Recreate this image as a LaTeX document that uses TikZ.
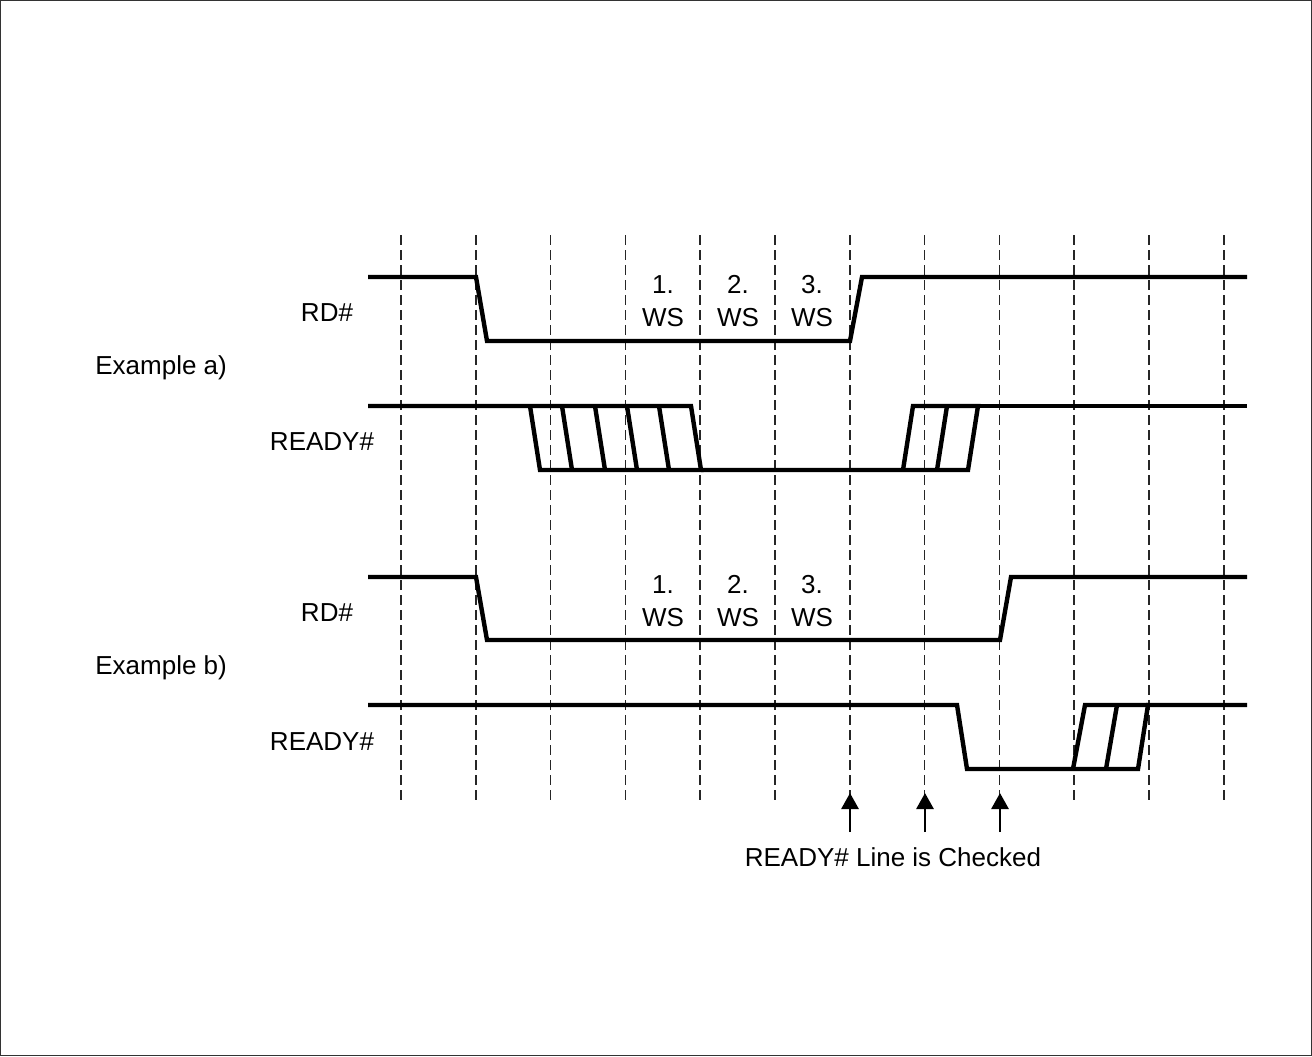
\documentclass[tikz,border=0pt]{standalone}
\usepackage{fontspec}
\setmainfont{Liberation Sans}
\usetikzlibrary{arrows.meta,positioning,calc}
\tikzset{
  signal/.style={line width=2.2pt,line join=miter},
  gridline/.style={line width=0.8pt,black!85,dash pattern=on 5pt off 2.5pt},
  lbl/.style={font=\fontsize{13pt}{15pt}\selectfont,inner sep=0pt},
  wslbl/.style={lbl,align=center,font=\fontsize{13pt}{16.5pt}\selectfont},
  checkarrow/.style={line width=1.4pt,-{Triangle[width=8.5pt,length=8pt]}}
}
\begin{document}
\begin{tikzpicture}[x=0.5pt,y=-0.5pt]
\useasboundingbox (0,0) rectangle (1312,1056);
\draw[line width=0.6pt,black!80] (0.6,0.6) rectangle (1311.4,1055.4);
\foreach \i in {0,...,11}
  \draw[gridline] ({401+74.8*\i},235) -- ({401+74.8*\i},802);
\node[lbl,anchor=west] (exa) at (95,368) {Example a)};
\node[lbl] (rda) at (327,313) {RD\#};
\node[lbl] (rdya) at (322,442) {READY\#};
\node[lbl,anchor=west] (exb) at (95,668) {Example b)};
\node[lbl] (rdb) at (327,613) {RD\#};
\node[lbl] (rdyb) at (322,742) {READY\#};
\node[wslbl] (wsa1) at (663,301) {1.\\WS};
\node[wslbl] (wsa2) at (738,301) {2.\\WS};
\node[wslbl] (wsa3) at (812,301) {3.\\WS};
\node[wslbl] (wsb1) at (663,601) {1.\\WS};
\node[wslbl] (wsb2) at (738,601) {2.\\WS};
\node[wslbl] (wsb3) at (812,601) {3.\\WS};
\draw[signal] (368,277) -- (476,277) -- (487,341) -- (850,341) -- (862,277) -- (1247,277);
\draw[signal] (368,406) -- (691,406) -- (701,470) -- (540,470) -- (530,406);
\foreach \x in {562,595,627,659}
  \draw[signal] (\x,406) -- ({\x+10},470);
\draw[signal] (701,470) -- (968,470) -- (978,406) -- (913,406) -- (903,470);
\draw[signal] (978,406) -- (1247,406);
\draw[signal] (937,470) -- (947,406);
\draw[signal] (368,577) -- (476,577) -- (487,640) -- (1000,640) -- (1011,577) -- (1247,577);
\draw[signal] (368,705) -- (957,705) -- (967,769) -- (1138,769) -- (1148,705) -- (1247,705);
\draw[signal] (1148,705) -- (1085,705) -- (1073,769);
\draw[signal] (1106,769) -- (1117,705);
\node[lbl] (chk) at (893,857) {READY\# Line is Checked};
\coordinate (c1) at (850,832);
\coordinate (c2) at (925,832);
\coordinate (c3) at (1000,832);
\coordinate (t1) at (850,793);
\coordinate (t2) at (925,793);
\coordinate (t3) at (1000,793);
\draw[checkarrow] (c1) -- (t1);
\draw[checkarrow] (c2) -- (t2);
\draw[checkarrow] (c3) -- (t3);
\end{tikzpicture}
\end{document}
